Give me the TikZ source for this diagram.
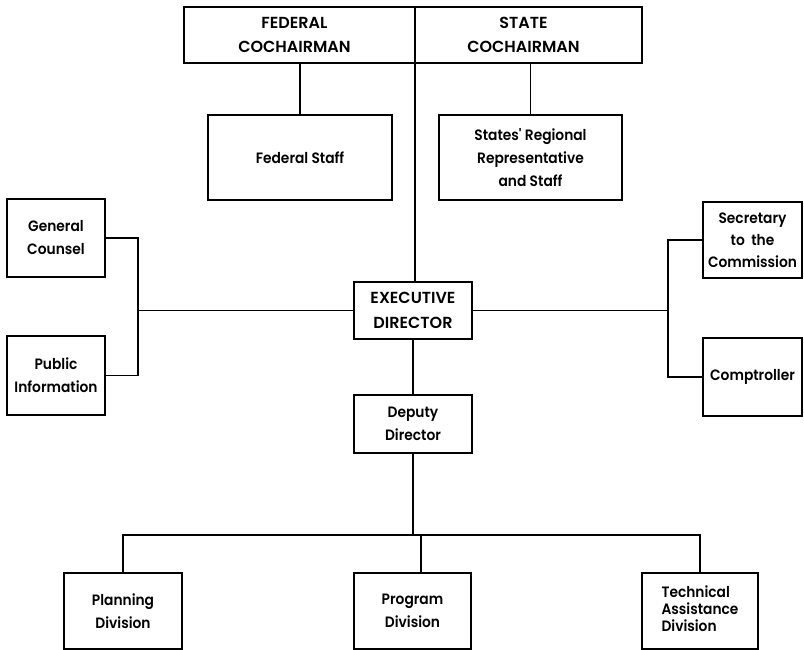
\documentclass[tikz,border=0pt]{standalone}
\usepackage{fontspec}
\setmainfont{Poppins SemiBold}
\newfontfamily\lowfont[FakeStretch=0.92]{Poppins SemiBold}
\begin{document}
\begin{tikzpicture}[x=1pt,y=-1pt,
  every node/.style={inner sep=0pt, outer sep=0pt},
  box/.style={draw, line width=1.6pt, align=center, text=black},
  capbox/.style={box, font=\fontsize{16}{23.5}\selectfont},
  lowbox/.style={box, font=\lowfont\fontsize{15}{23}\selectfont},
  tightbox/.style={box, font=\lowfont\fontsize{15}{16.5}\selectfont},
  conn/.style={line width=1.6pt, line cap=rect}
]
\useasboundingbox[fill=white] (0,0) rectangle (804,650);

% top row
\node[capbox, minimum width=231pt, minimum height=56pt] (fed) at (299.5,35) {\hspace*{-10pt}FEDERAL\\\hspace*{-10pt}COCHAIRMAN};
\node[capbox, minimum width=227pt, minimum height=56pt] (state) at (528.5,35) {\hspace*{-10pt}STATE\\\hspace*{-10pt}COCHAIRMAN};

% staff
\node[lowbox, minimum width=184pt, minimum height=85pt] (fstaff) at (300,157.5) {Federal Staff};
\node[lowbox, minimum width=183pt, minimum height=85pt] (sstaff) at (530.5,157.5) {States' Regional\\Representative\\and Staff};

% side boxes
\node[lowbox, minimum width=98pt, minimum height=78pt] (gc) at (56,238) {General\\Counsel};
\node[lowbox, minimum width=98pt, minimum height=79pt] (pi) at (56,375.5) {Public\\Information};
\node[lowbox, minimum width=99pt, minimum height=76pt, font=\lowfont\fontsize{15}{22}\selectfont] (sec) at (752.5,240) {Secretary\\to\ \ the\\Commission};
\node[lowbox, minimum width=99pt, minimum height=78pt] (comp) at (752.5,377) {Comptroller};

% centre
\node[capbox, minimum width=118pt, minimum height=57pt, font=\fontsize{16}{25}\selectfont] (exec) at (413,310.5) {EXECUTIVE\\DIRECTOR};
\node[lowbox, minimum width=118pt, minimum height=58pt] (dep) at (413,424) {Deputy\\Director};

% divisions
\node[lowbox, minimum width=118pt, minimum height=76pt] (plan) at (123,611) {Planning\\Division};
\node[lowbox, minimum width=117pt, minimum height=76pt] (prog) at (412.5,611) {Program\\Division};
\node[tightbox, minimum width=116pt, minimum height=76pt] (tech) at (700,611)
  {\begin{tabular}{@{}l@{}}Technical\\Assistance\\Division\end{tabular}};

% junction points
\coordinate (lj) at (138,308);
\coordinate (rj) at (668,310);
\coordinate (bus) at (413,535);

% connectors
\draw[conn] (fstaff.north) -- (fstaff.north |- fed.south);
\draw[conn] (sstaff.north) -- (sstaff.north |- state.south);
\draw[conn] (fed.north east) -- (fed.north east |- exec.north);
\draw[conn] (gc.east) -| (lj);
\draw[conn] (pi.east) -| (lj);
\draw[conn] (exec.west) -- (exec.west -| lj);
\draw[conn] (sec.west) -| (rj);
\draw[conn] (comp.west) -| (rj);
\draw[conn] (exec.east) -- (exec.east -| rj);
\draw[conn] (exec.south) -- (dep.north);
\draw[conn] (dep.south) -- (bus);
\draw[conn] (plan.north) |- (bus) -| (tech.north);
\draw[conn] ([xshift=8.5pt]prog.north) -- ([xshift=8.5pt]prog.north |- bus);
\end{tikzpicture}
\end{document}
